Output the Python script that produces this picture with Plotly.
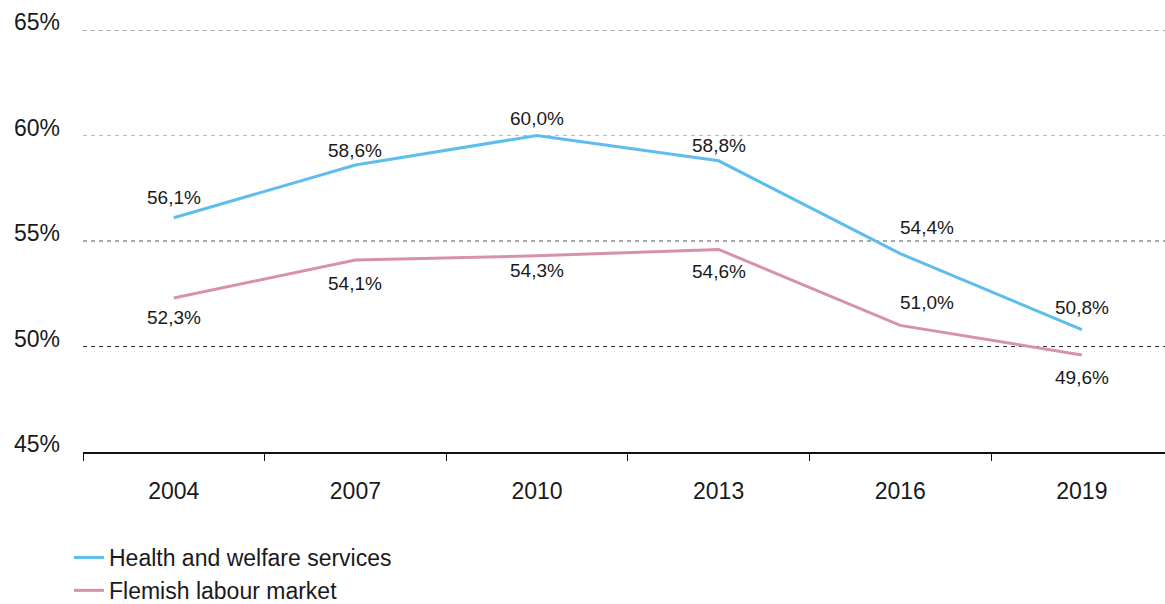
import plotly.graph_objects as go

years = ["2004", "2007", "2010", "2013", "2016", "2019"]
health_welfare = [56.1, 58.6, 60.0, 58.8, 54.4, 50.8]
flemish_market = [52.3, 54.1, 54.3, 54.6, 51.0, 49.6]
grid_values = [50, 55, 60, 65]
y_ticks = [45, 50, 55, 60, 65]
y_tick_labels = ["45%", "50%", "55%", "60%", "65%"]

BLUE = "#5dbdec"
PINK = "#d891ad"
FONT = "Liberation Sans, Arial, Helvetica, sans-serif"

# label offsets (xshift, yshift) per point
health_offsets = [(0, 20), (0, 15), (0, 17), (0, 15), (27, 26), (0, 22)]
flemish_offsets = [(0, -20), (0, -24), (0, -15), (0, -22), (27, 23), (0, -23)]
grid_colors = ["#333333", "#555555", "#bbbbbb", "#555555"]


def pct(v):
    return f"{v:.1f}".replace(".", ",") + "%"


fig = go.Figure()
fig.add_trace(go.Scatter(
    x=years, y=health_welfare, mode="lines", name="Health and welfare services",
    line=dict(color=BLUE, width=3), legendgroup="a"))
fig.add_trace(go.Scatter(
    x=years, y=flemish_market, mode="lines", name="Flemish labour market",
    line=dict(color=PINK, width=3), legendgroup="b"))

# value labels; x given as category index (year strings would be read as numbers)
annotations = []
for series, offs in ((health_welfare, health_offsets), (flemish_market, flemish_offsets)):
    for i, (v, (dx, dy)) in enumerate(zip(series, offs)):
        annotations.append(dict(
            x=i, y=v, xref="x", yref="y", text=pct(v), showarrow=False,
            xshift=dx, yshift=dy,
            font=dict(size=19, color="#1a1a1a", family=FONT)))

shapes = []
for gv, gc in zip(grid_values, grid_colors):
    shapes.append(dict(type="line", xref="paper", x0=0, x1=1, yref="y", y0=gv, y1=gv,
                       line=dict(color=gc, width=1, dash="4px,4px"), layer="below"))

fig.update_layout(
    width=1165, height=604,
    margin=dict(l=83, r=0, t=30, b=152, autoexpand=False),
    paper_bgcolor="white", plot_bgcolor="white",
    font=dict(family=FONT, size=23, color="#1a1a1a"),
    showlegend=True,
    legend=dict(x=69 / 1165, xref="container", xanchor="left",
                y=1 - 536 / 604, yref="container", yanchor="top",
                font=dict(size=23, color="#1a1a1a"), tracegroupgap=0,
                bgcolor="rgba(0,0,0,0)", borderwidth=0),
    annotations=annotations,
    shapes=shapes,
)
fig.update_xaxes(
    type="category", range=[-0.5, 5.458], tickson="boundaries",
    ticks="outside", ticklen=7, tickwidth=1, tickcolor="#111",
    showline=True, linecolor="#111", linewidth=2, showgrid=False,
    tickfont=dict(size=23), ticklabelstandoff=17)
fig.update_yaxes(
    range=[45, 65], tickvals=y_ticks, ticktext=y_tick_labels,
    showgrid=False, zeroline=False, showline=False,
    ticklabelposition="outside", ticklabelshift=-8, ticklabelstandoff=22,
    tickfont=dict(size=23))

fig.write_html("out.html")
